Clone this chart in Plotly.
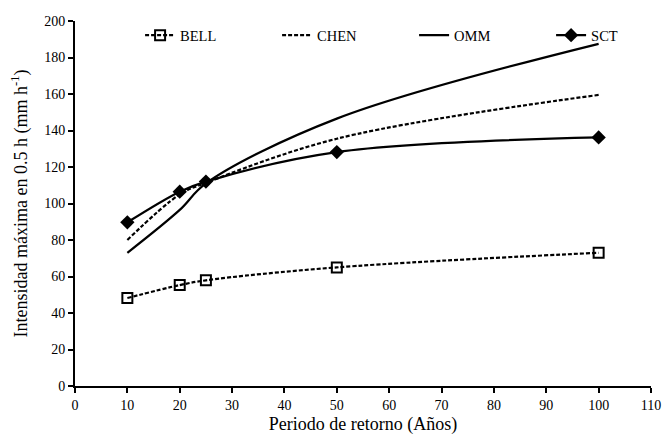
import plotly.graph_objects as go

periods = [10, 20, 25, 50, 100]
bell = [48.2, 55.3, 57.9, 65.0, 73.0]
chen = [80.0, 105.0, 111.3, 135.5, 159.5]
omm = [73.0, 96.5, 111.0, 146.5, 187.5]
sct = [89.7, 106.5, 112.0, 128.2, 136.2]

x_ticks = list(range(0, 111, 10))
y_ticks = list(range(0, 201, 20))

FONT = "Times New Roman, Liberation Serif, serif"

fig = go.Figure()
fig.add_trace(go.Scatter(
    x=periods, y=bell, name="BELL", mode="lines+markers",
    line=dict(color="black", width=2.2, dash="4px,2px", shape="spline", smoothing=1),
    marker=dict(symbol="square-open", size=10, color="black", line=dict(width=2, color="black")),
))
fig.add_trace(go.Scatter(
    x=periods, y=chen, name="CHEN", mode="lines",
    line=dict(color="black", width=2.2, dash="4px,2px", shape="spline", smoothing=1),
))
fig.add_trace(go.Scatter(
    x=periods, y=omm, name="OMM", mode="lines",
    line=dict(color="black", width=2.2, shape="spline", smoothing=1),
))
fig.add_trace(go.Scatter(
    x=periods, y=sct, name="SCT", mode="lines+markers",
    line=dict(color="black", width=2.2, shape="spline", smoothing=1),
    marker=dict(symbol="diamond", size=11, color="black"),
))

fig.update_layout(
    width=667, height=442,
    margin=dict(l=75, r=16, t=21, b=56, autoexpand=False),
    paper_bgcolor="white", plot_bgcolor="white",
    font=dict(family=FONT, size=14, color="black"),
    showlegend=True,
    legend=dict(
        orientation="h", x=0.113, xanchor="left", y=0.961, yanchor="middle",
        bgcolor="rgba(0,0,0,0)", font=dict(family=FONT, size=14.5, color="black"),
        entrywidth=92, entrywidthmode="pixels",
    ),
    xaxis=dict(
        range=[0, 110], tickmode="array", tickvals=x_ticks, automargin=False,
        showline=True, linecolor="black", linewidth=2, ticks="outside",
        ticklen=5, tickwidth=2, tickcolor="black", showgrid=False, zeroline=False,
        tickfont=dict(family=FONT, size=14),
        title=dict(text="Periodo de retorno (Años)", font=dict(family=FONT, size=18), standoff=6),
    ),
    yaxis=dict(
        range=[0, 200], tickmode="array", tickvals=y_ticks, automargin=False,
        showline=True, linecolor="black", linewidth=2, ticks="outside",
        ticklen=5, tickwidth=2, tickcolor="black", showgrid=False, zeroline=False,
        tickfont=dict(family=FONT, size=14),
        title=dict(text="Intensidad máxima en 0.5 h (mm h<sup>-1</sup>)", font=dict(family=FONT, size=18), standoff=12),
    ),
)

fig.write_html("out.html", config={"displayModeBar": False},
               post_script="document.body.style.margin='0';")
